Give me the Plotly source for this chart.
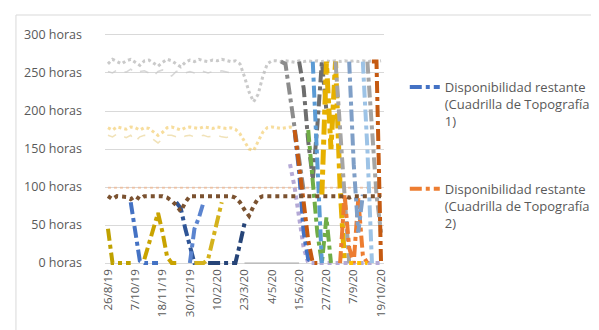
import plotly.graph_objects as go

# ---- axis labels ----
tick_weeks = [0, 6, 12, 18, 24, 30, 36, 42, 48, 54, 60]
tick_labels = ["26/8/19", "7/10/19", "18/11/19", "30/12/19", "10/2/20", "23/3/20",
               "4/5/20", "15/6/20", "27/7/20", "7/9/20", "19/10/20"]
y_ticks = [0, 50, 100, 150, 200, 250, 300]
y_labels = ["0 horas", "50 horas", "100 horas", "150 horas", "200 horas", "250 horas", "300 horas"]

# ---- faint background series (week index, hours) ----
top_gray_w = list(range(0, 61))
top_gray_v = [262, 268, 265, 262, 266, 268, 264, 260, 266, 267, 263, 259, 264, 268, 266, 262,
              258, 264, 267, 265, 268, 266, 265, 267, 266, 268, 266, 265, 266, 262, 245, 225,
              212, 222, 245, 262, 266, 266, 265, 266, 265, 264, 266, 265, 266, 265, 266, 265,
              266, 265, 266, 265, 266, 265, 266, 265, 266, 265, 266, 265, 266]
low_gray_w = list(range(0, 29))
low_gray_v = [252, 250, 254, 252, 251, 255, 250, 252, 253, 250, 246, 252, 254, 250, 246, 252,
              253, 250, 252, 250, 253, 252, 250, 252, 251, 253, 252, 250, 252]
top_yel_w = list(range(0, 42))
top_yel_v = [178, 175, 179, 177, 176, 179, 178, 175, 178, 177, 172, 168, 172, 178, 179, 177,
             175, 178, 179, 178, 177, 179, 178, 177, 179, 178, 177, 178, 176, 170, 160, 150,
             148, 160, 172, 178, 179, 178, 177, 178, 179, 178]
low_yel_w = list(range(0, 29))
low_yel_v = [168, 166, 170, 167, 165, 168, 160, 166, 168, 167, 162, 158, 163, 168, 168, 166,
             164, 167, 168, 166, 167, 168, 166, 167, 168, 166, 165, 167, 166]
hundred_w = list(range(0, 61))
hundred_v = [99] * 61

# ---- brown dotted series ----
brown_w = list(range(0, 61))
brown_v = [88, 84, 88, 88, 87, 84, 88, 84, 88, 88, 88, 88, 88, 86, 82, 76, 68, 80, 88, 88,
           88, 88, 88, 88, 88, 88, 88, 88, 86, 80, 70, 62, 75, 85, 88, 88, 88, 88, 88, 88,
           88, 88, 88, 88, 88, 88, 88, 88, 88, 88, 88, 88, 88, 86, 88, 88, 88, 88, 88, 88, 88]

# ---- early period series ----
sA_w = [0, 1, 2, 3, 4, 5];                 sA_v = [45, 0, 0, 0, 0, 0]
sB_w = [5, 6, 7, 8, 9, 10, 11];            sB_v = [80, 40, 3, 0, 0, 0, 0]
sC_w = [8, 9, 10, 11, 12, 13, 14, 15];     sC_v = [5, 25, 48, 66, 40, 8, 0, 0]
sD1_w = [15, 16, 17, 18, 19, 20, 21];      sD1_v = [80, 72, 45, 20, 0, 0, 0]
sD2_w = [18, 19, 20, 21];                  sD2_v = [0, 45, 60, 80]
sE_w = [19, 20, 21, 22, 23, 24, 25];       sE_v = [0, 0, 0, 5, 30, 55, 80]
sF_w = [22, 23, 24, 25, 26, 27, 28, 29, 30]; sF_v = [0, 0, 0, 0, 0, 0, 0, 25, 52]
zero_mid_w = [30, 42];                     zero_mid_v = [0, 0]

# ---- late period series ----
L1_w = [38, 39, 40, 41, 42, 43];           L1_v = [265, 262, 220, 175, 130, 95]
L2_w = list(range(40, 61))
L2_v = [130, 100, 60, 20, 0, 0, 0, 0, 0, 0, 0, 0, 0, 0, 0, 0, 0, 0, 0, 0, 0]
L3_w = [41, 42, 43, 44, 45];               L3_v = [175, 120, 40, 5, 0]
L4_w = [41, 42, 43, 44, 45, 46];           L4_v = [175, 130, 80, 30, 0, 0]
L5_w = [42, 43, 44, 45, 46, 47, 48];       L5_v = [265, 230, 160, 110, 180, 265, 200]
L6_w = [44, 45, 46, 47, 48, 49];           L6_v = [175, 110, 40, 0, 60, 0]
L7_w = [45, 46, 47];                       L7_v = [265, 120, 0]
L8_w = [47, 48, 49, 50, 51, 52];           L8_v = [90, 265, 150, 265, 100, 0]
L9_w = [50, 51, 52, 53];                   L9_v = [265, 180, 90, 0]
L10_w = [51, 52, 53, 54, 55, 56, 57];      L10_v = [0, 90, 20, 0, 85, 10, 0]
L11_w = [53, 54, 55, 56];                  L11_v = [265, 130, 40, 90]
L12_w = [53, 54, 55, 56, 57];              L12_v = [0, 0, 0, 0, 0]
L13_w = [56, 57, 58];                      L13_v = [265, 150, 0]
L14_w = [57, 58, 59, 60];                  L14_v = [265, 180, 90, 40]
L15_w = [58, 59, 60];                      L15_v = [265, 265, 0]

name1 = "Disponibilidad restante<br>(Cuadrilla de Topografía<br>1)"
name2 = "Disponibilidad restante<br>(Cuadrilla de Topografía<br>2)"

fig = go.Figure()

def add(w, v, color, dash="dashdot", width=4, opacity=1.0, name=None, rank=None):
    fig.add_trace(go.Scatter(
        x=w, y=v, mode="lines",
        line=dict(color=color, width=width, dash=dash),
        opacity=opacity,
        name=name if name else "",
        showlegend=bool(name),
        legendgroup=name if name else None,
        legendrank=rank if rank else 1000,
        hoverinfo="skip",
    ))

# background faint lines
add(top_gray_w, top_gray_v, "#BDBDBD", dash="dot", width=3, opacity=0.8)
add(low_gray_w, low_gray_v, "#C8C8C8", dash="dash", width=1.5, opacity=0.7)
add(top_yel_w, top_yel_v, "#F2C75C", dash="dot", width=3, opacity=0.6)
add(low_yel_w, low_yel_v, "#E8D08A", dash="dash", width=1.5, opacity=0.6)
add(hundred_w, hundred_v, "#F4B183", dash="dot", width=2, opacity=0.6)
add(zero_mid_w, zero_mid_v, "#A6A6A6", dash="solid", width=1)

# early series
add(sA_w, sA_v, "#BFA100")
add(sB_w, sB_v, "#4472C4", name=name1, rank=1)
add(sC_w, sC_v, "#C9A300")
add(sD1_w, sD1_v, "#2F5597")
add(sD2_w, sD2_v, "#5B84CF")
add(sE_w, sE_v, "#D4B21C")
add(sF_w, sF_v, "#264478")

# late series
add(L1_w, L1_v, "#8C8C8C")
add(L2_w, L2_v, "#B4A9D6", dash="dot")
add(L3_w, L3_v, "#4472C4")
add(L4_w, L4_v, "#C55A11")
add(L5_w, L5_v, "#6E6E6E")
add(L6_w, L6_v, "#70AD47")
add(L7_w, L7_v, "#5B9BD5")
add(L8_w, L8_v, "#E6B000", width=5)
add(L9_w, L9_v, "#A5A5A5")
add(L10_w, L10_v, "#ED7D31", name=name2, rank=2)
add(L11_w, L11_v, "#7F9FC7")
add(L12_w, L12_v, "#FFC000", dash="dot")
add(L13_w, L13_v, "#9DC3E6")
add(L14_w, L14_v, "#A5A5A5")
add(L15_w, L15_v, "#C55A11")

# brown dotted on top
add(brown_w, brown_v, "#7B5230", dash="dot", width=4)

# chart border (paper coords relative to plot area 97..379 x 25..258)
fig.add_shape(type="rect", xref="paper", yref="paper",
              x0=(7 - 97) / 282, x1=(597 - 97) / 282,
              y0=(258 - 328) / 233, y1=(258 - 7) / 233,
              line=dict(color="#D9D9D9", width=1), layer="below")

fig.update_layout(
    width=599, height=330,
    margin=dict(l=97, r=220, t=25, b=72),
    paper_bgcolor="white", plot_bgcolor="white",
    font=dict(family="Open Sans", size=11, color="#595959"),
    xaxis=dict(range=[-0.65, 60.65], tickmode="array", tickvals=tick_weeks,
               ticktext=tick_labels, tickangle=-90, showgrid=False, zeroline=False,
               showline=False, ticks="", tickfont=dict(size=11.5, color="#595959")),
    yaxis=dict(range=[-3.9, 302.6], tickmode="array", tickvals=y_ticks, ticktext=y_labels,
               showgrid=True, gridcolor="#D9D9D9", gridwidth=1, zeroline=False,
               showline=False, ticks="", ticklabelstandoff=22,
               tickfont=dict(size=12.5, color="#595959")),
    legend=dict(x=(400 - 97) / 282, y=(258 - 64) / 233, xanchor="left", yanchor="top",
                valign="top", tracegroupgap=48, traceorder="grouped",
                font=dict(size=13, color="#595959"), bgcolor="rgba(0,0,0,0)"),
    showlegend=True,
)

fig.write_html("out.html")
